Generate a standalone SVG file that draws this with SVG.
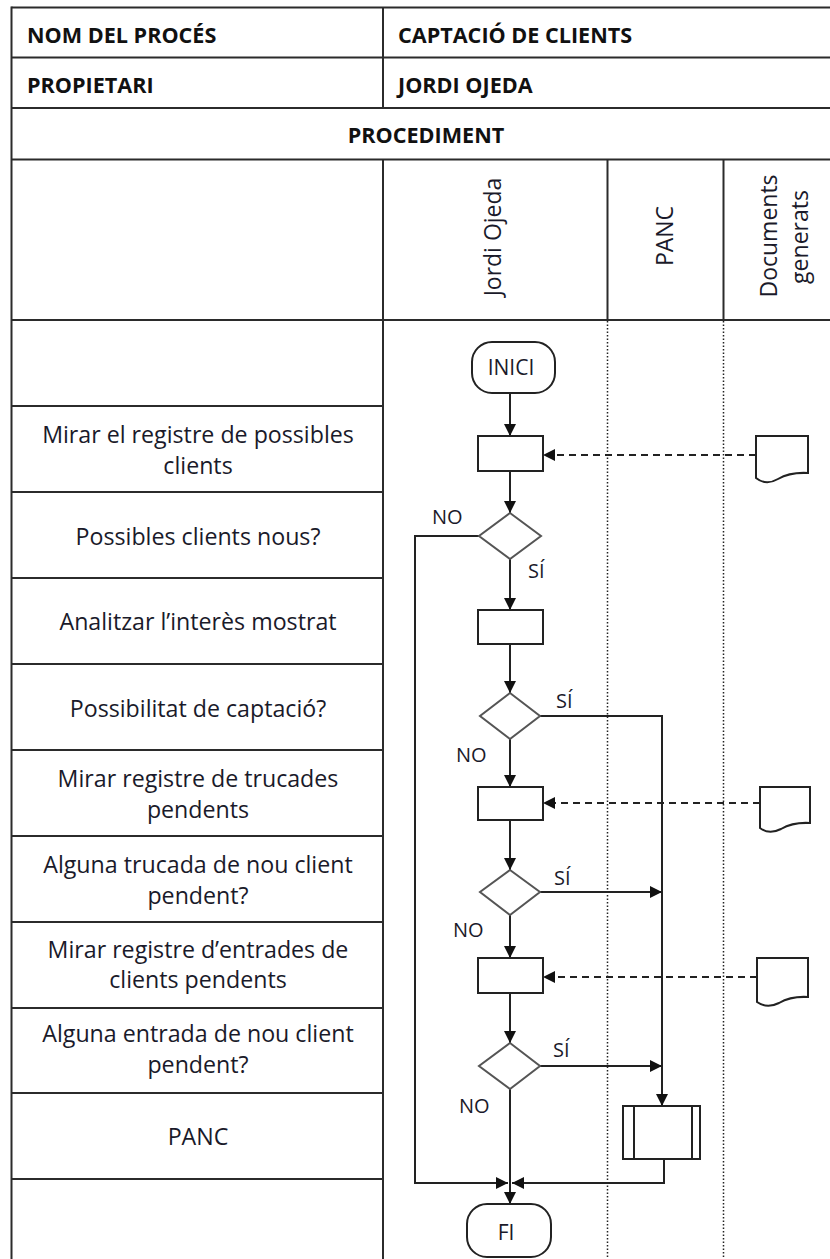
<svg xmlns="http://www.w3.org/2000/svg" width="830" height="1259" viewBox="0 0 830 1259">
  <defs>
    <style>
      .grid { stroke: #2b2b2b; stroke-width: 2; fill: none; }
      .dot { stroke: #222; stroke-width: 1.5; stroke-dasharray: 1.5 2; fill: none; }
      .hdr { font-family: "Open Sans", "Noto Sans", sans-serif; font-weight: bold; font-size: 21.6px; fill: #111; }
      .lbl { font-family: "Open Sans", "Noto Sans", sans-serif; font-size: 23.2px; fill: #1a1a2a; text-anchor: middle; }
      .lane { font-family: "Open Sans", "Noto Sans", sans-serif; font-size: 23px; fill: #1a1a2a; text-anchor: middle; }
      .shape { fill: #fff; stroke: #222; stroke-width: 2; }
      .dia { fill: #fff; stroke: #555; stroke-width: 2; }
      .term { font-family: "Open Sans", "Noto Sans", sans-serif; font-size: 21px; fill: #1a1a2a; text-anchor: middle; }
      .flow { stroke: #222; stroke-width: 2; fill: none; }
      .dash { stroke: #222; stroke-width: 2; stroke-dasharray: 7 5; fill: none; }
      .cond { font-family: "Open Sans", "Noto Sans", sans-serif; font-size: 20px; fill: #1a1a2a; }
    </style>
    <marker id="arrow" viewBox="0 0 12 12" refX="12" refY="6" markerWidth="12" markerHeight="12" markerUnits="userSpaceOnUse" orient="auto">
      <path d="M0,0 L12,6 L0,12 Z" fill="#111"/>
    </marker>
  </defs>

  <!-- table grid -->
  <g id="table">
    <line class="grid" x1="11.5" y1="7.5" x2="830" y2="7.5"/>
    <line class="grid" x1="11.5" y1="57.5" x2="830" y2="57.5"/>
    <line class="grid" x1="11.5" y1="108" x2="830" y2="108"/>
    <line class="grid" x1="11.5" y1="159.5" x2="830" y2="159.5"/>
    <line class="grid" x1="11.5" y1="320" x2="830" y2="320"/>
    <line class="grid" x1="11.5" y1="6.5" x2="11.5" y2="1259"/>
    <line class="grid" x1="383" y1="7.5" x2="383" y2="108"/>
    <line class="grid" x1="383" y1="159.5" x2="383" y2="1259"/>
    <line class="grid" x1="607.5" y1="159.5" x2="607.5" y2="320"/>
    <line class="grid" x1="723.5" y1="159.5" x2="723.5" y2="320"/>
    <line class="dot" x1="607.5" y1="321" x2="607.5" y2="1259"/>
    <line class="dot" x1="723.5" y1="321" x2="723.5" y2="1259"/>
    <line class="grid" x1="11.5" y1="406" x2="383" y2="406"/>
    <line class="grid" x1="11.5" y1="492" x2="383" y2="492"/>
    <line class="grid" x1="11.5" y1="578" x2="383" y2="578"/>
    <line class="grid" x1="11.5" y1="664" x2="383" y2="664"/>
    <line class="grid" x1="11.5" y1="750" x2="383" y2="750"/>
    <line class="grid" x1="11.5" y1="836" x2="383" y2="836"/>
    <line class="grid" x1="11.5" y1="922" x2="383" y2="922"/>
    <line class="grid" x1="11.5" y1="1008" x2="383" y2="1008"/>
    <line class="grid" x1="11.5" y1="1093" x2="383" y2="1093"/>
    <line class="grid" x1="11.5" y1="1179" x2="383" y2="1179"/>
  </g>

  <!-- header texts -->
  <g id="header">
    <text class="hdr" x="27" y="43">NOM DEL PROCÉS</text>
    <text class="hdr" x="398" y="43">CAPTACIÓ DE CLIENTS</text>
    <text class="hdr" x="27" y="93">PROPIETARI</text>
    <text class="hdr" x="398" y="93">JORDI OJEDA</text>
    <text class="hdr" x="426" y="143" text-anchor="middle">PROCEDIMENT</text>
  </g>

  <!-- lane titles -->
  <g id="lanes">
    <text class="lane" transform="translate(501,237) rotate(-90)">Jordi Ojeda</text>
    <text class="lane" transform="translate(673,236) rotate(-90)">PANC</text>
    <text class="lane" transform="translate(777,236) rotate(-90)">Documents</text>
    <text class="lane" transform="translate(808,237) rotate(-90)">generats</text>
  </g>

  <!-- step descriptions -->
  <g id="steps">
    <text class="lbl" x="198" y="443">Mirar el registre de possibles</text>
    <text class="lbl" x="198" y="474">clients</text>
    <text class="lbl" x="198" y="545">Possibles clients nous?</text>
    <text class="lbl" x="198" y="630">Analitzar l’interès mostrat</text>
    <text class="lbl" x="198" y="717">Possibilitat de captació?</text>
    <text class="lbl" x="198" y="787">Mirar registre de trucades</text>
    <text class="lbl" x="198" y="818">pendents</text>
    <text class="lbl" x="198" y="873">Alguna trucada de nou client</text>
    <text class="lbl" x="198" y="904">pendent?</text>
    <text class="lbl" x="198" y="958">Mirar registre d’entrades de</text>
    <text class="lbl" x="198" y="988">clients pendents</text>
    <text class="lbl" x="198" y="1042">Alguna entrada de nou client</text>
    <text class="lbl" x="198" y="1073">pendent?</text>
    <text class="lbl" x="198" y="1145">PANC</text>
  </g>

  <!-- connectors -->
  <g id="connectors">
    <line class="flow" x1="510" y1="393" x2="510" y2="436" marker-end="url(#arrow)"/>
    <line class="flow" x1="510" y1="471" x2="510" y2="513" marker-end="url(#arrow)"/>
    <line class="dash" x1="756" y1="455" x2="543" y2="455" marker-end="url(#arrow)"/>
    <line class="flow" x1="510" y1="559" x2="510" y2="610" marker-end="url(#arrow)"/>
    <polyline class="flow" points="479,536 415,536 415,1183 508,1183" marker-end="url(#arrow)"/>
    <line class="flow" x1="510" y1="644" x2="510" y2="693" marker-end="url(#arrow)"/>
    <polyline class="flow" points="540,716 662,716 662,1106" marker-end="url(#arrow)"/>
    <line class="flow" x1="510" y1="739" x2="510" y2="787" marker-end="url(#arrow)"/>
    <line class="dash" x1="760" y1="803" x2="543" y2="803" marker-end="url(#arrow)"/>
    <line class="flow" x1="510" y1="820" x2="510" y2="870" marker-end="url(#arrow)"/>
    <line class="flow" x1="540" y1="892" x2="662" y2="892" marker-end="url(#arrow)"/>
    <line class="flow" x1="510" y1="915" x2="510" y2="958" marker-end="url(#arrow)"/>
    <line class="dash" x1="757" y1="977" x2="543" y2="977" marker-end="url(#arrow)"/>
    <line class="flow" x1="510" y1="993" x2="510" y2="1043" marker-end="url(#arrow)"/>
    <line class="flow" x1="540" y1="1066" x2="662" y2="1066" marker-end="url(#arrow)"/>
    <line class="flow" x1="510" y1="1089" x2="510" y2="1183"/>
    <polyline class="flow" points="664,1159 664,1183 512,1183" marker-end="url(#arrow)"/>
    <line class="flow" x1="510" y1="1183" x2="510" y2="1204" marker-end="url(#arrow)"/>
    <text class="cond" x="432" y="524">NO</text>
    <text class="cond" x="528" y="578">SÍ</text>
    <text class="cond" x="556" y="708">SÍ</text>
    <text class="cond" x="456" y="762">NO</text>
    <text class="cond" x="554" y="885">SÍ</text>
    <text class="cond" x="453" y="937">NO</text>
    <text class="cond" x="553" y="1057">SÍ</text>
    <text class="cond" x="459" y="1113">NO</text>
  </g>

  <!-- flow nodes -->
  <g id="inici">
    <rect class="shape" x="472" y="342" width="83" height="51" rx="20" ry="20"/>
    <text class="term" x="511" y="375">INICI</text>
  </g>
  <g id="mirar-registre">
    <rect class="shape" x="478" y="436" width="65" height="35"/>
  </g>
  <g id="doc-registre">
    <path class="shape" d="M756,436 H808 V473 Q790,472 778,479 Q766,486 756,478 Z"/>
  </g>
  <g id="clients-nous">
    <path class="dia" d="M510,513 L541,536 L510,559 L479,536 Z"/>
  </g>
  <g id="analitzar">
    <rect class="shape" x="478" y="610" width="65" height="34"/>
  </g>
  <g id="possibilitat">
    <path class="dia" d="M510,693 L540,716 L510,739 L480,716 Z"/>
  </g>
  <g id="mirar-trucades">
    <rect class="shape" x="478" y="787" width="65" height="33"/>
  </g>
  <g id="doc-trucades">
    <path class="shape" d="M760,787 H810 V823 Q793,822 781,829 Q769,835 760,828 Z"/>
  </g>
  <g id="trucada-pendent">
    <path class="dia" d="M510,870 L540,892 L510,915 L480,892 Z"/>
  </g>
  <g id="mirar-entrades">
    <rect class="shape" x="478" y="958" width="65" height="35"/>
  </g>
  <g id="doc-entrades">
    <path class="shape" d="M757,958 H808 V997 Q791,996 779,1003 Q767,1009 757,1002 Z"/>
  </g>
  <g id="entrada-pendent">
    <path class="dia" d="M510,1043 L540,1066 L510,1089 L479,1066 Z"/>
  </g>
  <g id="panc">
    <rect class="shape" x="623" y="1106" width="77" height="53"/>
    <line class="flow" x1="634" y1="1106" x2="634" y2="1159"/>
    <line class="flow" x1="692" y1="1106" x2="692" y2="1159"/>
  </g>
  <g id="fi">
    <rect class="shape" x="467" y="1204" width="84" height="53" rx="20" ry="20"/>
    <text class="term" x="506" y="1240">FI</text>
  </g>
</svg>
